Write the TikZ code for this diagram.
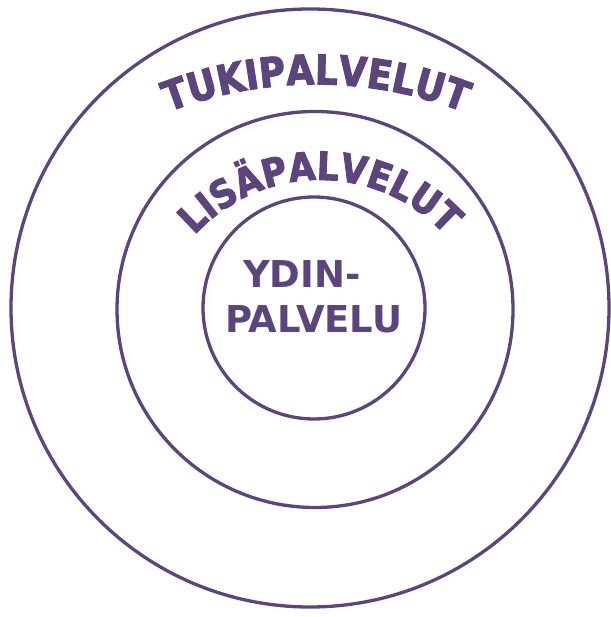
\documentclass[tikz,border=0pt]{standalone}
\usepackage{fontspec}
\usepackage{xcolor}
\usepackage{tikz}
\usetikzlibrary{decorations.text}
\newfontfamily\corefont{DejaVu Sans}
\newfontfamily\heavyfont{DejaVu Sans}[BoldFeatures={FakeStretch=0.88,FakeBold=2.5}]
\definecolor{ringpurple}{RGB}{92,68,125}
\tikzset{
  ring/.style = {
    circle, draw=ringpurple, line width=3.3pt, inner sep=0pt
  },
  arclabel/.style = {
    decorate, decoration={text along path, text align=center,
      text={#1}}
  },
  corelabel/.style = {
    text=ringpurple, inner sep=0pt, anchor=base west,
    font=\corefont\bfseries\fontsize{37}{37}\selectfont
  }
}

\begin{document}
\begin{tikzpicture}[x=1pt, y=1pt]
\useasboundingbox[fill=white] (0,0) rectangle (610,617);

%% Rings
\node[ring, minimum size=598pt] (outer) at (310,309)   {};
\node[ring, minimum size=396pt] (mid)   at (315,307.5) {};
\node[ring, minimum size=222pt] (core)  at (314,309)   {};

%% Arc labels
\coordinate (tukic) at (316,125);
\coordinate (lisac) at (320,267);
\path[arclabel={|\heavyfont\bfseries\fontsize{41}{41}\selectfont\color{ringpurple}|TUKIPALVELUT}]
  (tukic) ++(125:407.6) arc[start angle=125, end angle=55, radius=407.6];
\path[arclabel={|\heavyfont\bfseries\fontsize{39}{39}\selectfont\color{ringpurple}|LISÄPALVELUT}]
  (lisac) ++(160:170) arc[start angle=160, end angle=20, radius=170];

%% Core label
\node[corelabel] (ydin)    at (243,329) {YDIN-};
\node[corelabel] (palvelu) at (225,284) {PALVELU};

\end{tikzpicture}
\end{document}
